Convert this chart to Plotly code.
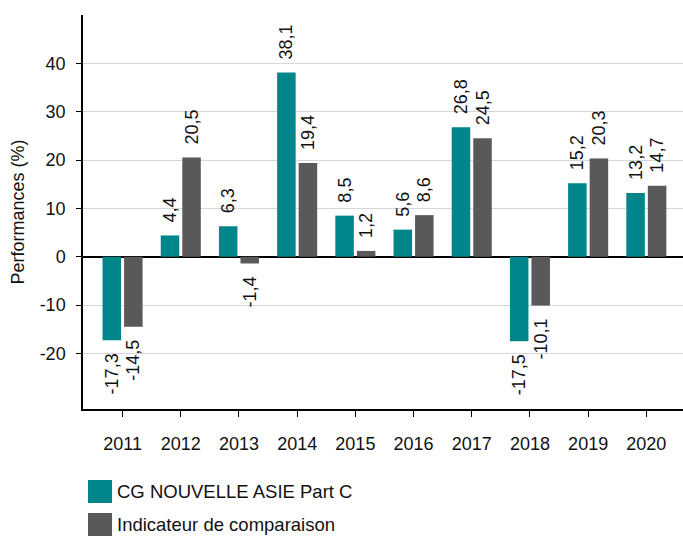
import plotly.graph_objects as go

years = ["2011", "2012", "2013", "2014", "2015", "2016", "2017", "2018", "2019", "2020"]
fund_name = "CG NOUVELLE ASIE Part C"
fund_values = [-17.3, 4.4, 6.3, 38.1, 8.5, 5.6, 26.8, -17.5, 15.2, 13.2]
bench_name = "Indicateur de comparaison"
bench_values = [-14.5, 20.5, -1.4, 19.4, 1.2, 8.6, 24.5, -10.1, 20.3, 14.7]
y_ticks = [-20, -10, 0, 10, 20, 30, 40]
y_ticktext = ["-20", "-10", "0", "10", "20", "30", "40"]

FUND_COLOR = "#00868a"
BENCH_COLOR = "#595959"
FONT = "Liberation Sans, Arial, sans-serif"
NB = "\u00a0"


def label(v):
    s = f"{v:.1f}".replace(".", ",")
    return NB * 2 + s if v >= 0 else s + NB * 2


fig = go.Figure()
for name, vals, color in [(fund_name, fund_values, FUND_COLOR),
                          (bench_name, bench_values, BENCH_COLOR)]:
    fig.add_trace(go.Bar(
        x=years, y=vals, name=name,
        marker=dict(color=color, line=dict(width=0)),
        text=[label(v) for v in vals],
        textposition="outside", textangle=-90,
        textfont=dict(family=FONT, size=18, color="#111111"),
        constraintext="none", cliponaxis=False,
        showlegend=False,
    ))

# legend drawn as large squares with labels below the plot
legend_items = [(fund_name, FUND_COLOR), (bench_name, BENCH_COLOR)]
shapes = []
annotations = []
for i, (name, color) in enumerate(legend_items):
    top_px = 480 + i * 33
    y0 = (409 - top_px) / 394
    y1 = (409 - (top_px + 23)) / 394
    shapes.append(dict(type="rect", xref="paper", yref="paper",
                       x0=5 / 600, x1=29 / 600, y0=y1, y1=y0,
                       fillcolor=color, line=dict(width=0)))
    annotations.append(dict(xref="paper", yref="paper",
                            x=32 / 600, y=(y0 + y1) / 2,
                            xanchor="left", yanchor="middle",
                            text=name, showarrow=False,
                            font=dict(family=FONT, size=18.5, color="#111111")))

fig.update_layout(
    width=683, height=538,
    margin=dict(l=83, r=0, t=15, b=129, autoexpand=False),
    paper_bgcolor="white", plot_bgcolor="white",
    barmode="group", bargap=0.26, bargroupgap=0.14,
    font=dict(family=FONT, size=18, color="#111111"),
    shapes=shapes, annotations=annotations,
    xaxis=dict(
        type="category", range=[-0.68, 9.63], automargin=False,
        showline=True, linecolor="black", linewidth=1.5,
        ticks="outside", ticklen=6, tickcolor="black", tickwidth=1,
        ticklabelstandoff=12,
        showgrid=False,
        tickfont=dict(family=FONT, size=18, color="#111111"),
    ),
    yaxis=dict(
        range=[-31.5, 50], automargin=False,
        tickvals=y_ticks, ticktext=y_ticktext,
        showline=True, linecolor="black", linewidth=1.5,
        ticks="outside", ticklen=5, tickcolor="black", tickwidth=1,
        ticklabelstandoff=7,
        showgrid=True, gridcolor="#d6d6d6", gridwidth=1,
        zeroline=True, zerolinecolor="black", zerolinewidth=1.5,
        title=dict(text="Performances (%)", standoff=10,
                   font=dict(family=FONT, size=18, color="#111111")),
        tickfont=dict(family=FONT, size=18, color="#111111"),
    ),
)

fig.write_html(
    "out.html",
    config={"displayModeBar": False},
    post_script="document.body.style.margin='0';document.body.style.overflow='hidden';",
)
